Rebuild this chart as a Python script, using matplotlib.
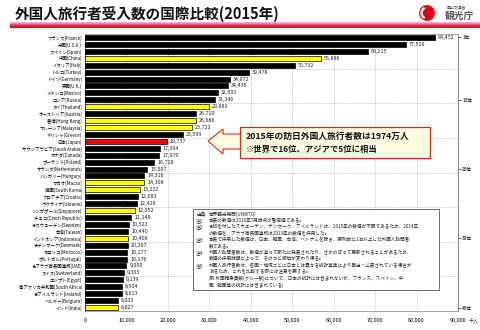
import numpy as np
import matplotlib
matplotlib.use("Agg")
import matplotlib.pyplot as plt
from matplotlib.patches import Rectangle, Polygon, Circle, Wedge
from matplotlib.colors import LinearSegmentedColormap

plt.rcParams['font.family'] = ['Noto Sans CJK JP', 'DejaVu Sans']

countries = ["フランス(France)", "米国(U.S.A.)", "スペイン(Spain)", "中国(China)", "イタリア(Italy)",
             "トルコ(Turkey)", "ドイツ(Germany)", "英国(U.K.)", "メキシコ(Mexico)", "ロシア(Russia)",
             "タイ(Thailand)", "オーストリア(Austria)", "香港(Hong Kong)", "マレーシア(Malaysia)", "ギリシャ(Greece)",
             "日本(Japan)", "サウジアラビア(Saudi Arabia)", "カナダ(Canada)", "ポーランド(Poland)", "オランダ(Netherlands)",
             "ハンガリー(Hungary)", "マカオ(Macao)", "韓国(South Korea)", "クロアチア(Croatia)", "ウクライナ(Ukraine)",
             "シンガポール(Singapore)", "チェコ(Czech Republic)", "★スウェーデン(Sweden)", "台湾(Taiwan)", "インドネシア(Indonesia)",
             "★デンマーク(Denmark)", "モロッコ(Morocco)", "ポルトガル(Portugal)", "★アラブ首長国連邦(UAE)", "スイス(Switzerland)",
             "エジプト(Egypt)", "南アフリカ共和国(South Africa)", "★アイルランド(Ireland)", "ベルギー(Belgium)", "インド(India)"]
values = [84452, 77510, 68215, 56886, 50732, 39478, 34972, 34436, 32093, 31346,
          29881, 26719, 26686, 25721, 23599, 19737, 17994, 17970, 16728, 15007,
          14316, 14308, 13232, 12683, 12428, 12052, 11148, 10522, 10440, 10408,
          10267, 10177, 10176, 9990, 9305, 9139, 8904, 8813, 8033, 8027]
# k = black, y = asia (yellow), r = japan
groups = ["k", "k", "k", "y", "k", "k", "k", "k", "k", "k",
          "y", "k", "y", "y", "k", "r", "k", "k", "k", "k",
          "k", "y", "y", "k", "k", "y", "k", "k", "k", "y",
          "k", "k", "k", "k", "k", "k", "k", "k", "k", "y"]
xticks = [0, 10000, 20000, 30000, 40000, 50000, 60000, 70000, 80000, 90000]
rank_pos = [1, 10, 20, 30, 40]

notes = [
    ("出典:", "世界観光機関(UNWTO)"),
    ("注1:", "本表の数値は2016年7月時点の暫定値である。"),
    ("注2:", "★印を付したスウェーデン、デンマーク、アイルランドは、2015年の数値が不明であるため、2014年"),
    ("", "の数値を、アラブ首長国連邦は2013年の数値を採用した。"),
    ("注3:", "本表で採用した数値は、日本、韓国、台湾、ベトナムを除き、原則的に1泊以上した外国人訪問者"),
    ("", "数である。"),
    ("注4:", "外国人訪問者数は、数値が追って新たに発表されたり、さかのぼって更新されることがあるため、"),
    ("", "数値の採用時期によって、そのつど順位が変わり得る。"),
    ("注5:", "外国人旅行者数は、各国・地域ごとに日本とは異なる統計基準により算出・公表されている場合が"),
    ("", "あるため、これを比較する際には注意を要する。"),
    ("", "(例:外国籍乗員数(クルー数)について、日本の統計には含まれないが、フランス、スペイン、中"),
    ("", "国、韓国等の統計には含まれている)"),
]

W, H = 480, 330


def px(x, y):
    return x / W, 1 - y / H


fig = plt.figure(figsize=(4.8, 3.3), dpi=100)

# title
fig.text(*px(15, 14), "外国人旅行者受入数の国際比較(2015年)", fontsize=10.5, fontweight="bold",
         va="center", ha="left", color="#111111")

# gradient band under title
band = fig.add_axes([10 / W, 1 - 28.5 / H, 470 / W, 7 / H])
grad = np.linspace(0, 1, 50).reshape(-1, 1)
cmap = LinearSegmentedColormap.from_list("band", ["#fcd2ee", "#f08cc8", "#ee2040", "#e00010"])
band.imshow(grad, aspect="auto", cmap=cmap, extent=[0, 1, 1, 0])
band.set_axis_off()

# logo
logo = fig.add_axes([418 / W, 1 - 21 / H, 18 / W, 16 / H])
logo.set_xlim(-1, 1)
logo.set_ylim(-1, 1)
logo.set_aspect("equal")
logo.add_patch(Circle((0, 0), 0.9, color="#e60012"))
logo.add_patch(Wedge((0, 0), 0.75, 120, 240, width=0.12, color="white"))
logo.set_axis_off()
fig.text(*px(447, 7), "国土交通省", fontsize=2.8, color="#444444", va="center")
fig.text(*px(445, 16), "観光庁", fontsize=7, fontweight="bold", color="#555555", va="center")

# main chart
ax = fig.add_axes([85 / W, 1 - 311 / H, 373 / W, 277 / H])
y = np.arange(len(values))
colors = {"k": "black", "y": "#ffff00", "r": "#ff0000"}
for i, (v, g) in enumerate(zip(values, groups)):
    ax.barh(i, v, height=0.72, color=colors[g], edgecolor="black", linewidth=0.5, zorder=3)
    ax.text(v + 700, i, f"{v:,}", fontsize=3.9, va="center", ha="left", color="#222222", zorder=4)

ax.set_xlim(0, 90000)
ax.set_ylim(len(values) - 0.5, -0.5)
ax.set_xticks(xticks)
ax.set_xticklabels([f"{t:,}" for t in xticks], fontsize=4)
ax.set_yticks(y)
ax.set_yticklabels(countries, fontsize=3.2)
ax.tick_params(axis="both", length=0, pad=2)
ax.tick_params(axis="x", pad=5)
for t in xticks[1:]:
    ax.axvline(t, color="#9a9a9a", lw=0.5, ls=":", zorder=1)
for b in range(5, len(values), 5):
    ax.axhline(b - 0.5, color="#9a9a9a", lw=0.5, ls=":", zorder=1)
ax.spines["top"].set_color("#999999")
ax.spines["bottom"].set_color("#999999")
ax.spines["right"].set_color("#777777")
ax.spines["left"].set_color("#333333")
for s in ax.spines.values():
    s.set_linewidth(0.6)

ax2 = ax.twinx()
ax2.set_ylim(len(values) - 0.5, -0.5)
ax2.set_yticks([r - 1 for r in rank_pos])
ax2.set_yticklabels([f"{r}位" for r in rank_pos], fontsize=3.4)
ax2.tick_params(axis="y", length=2, width=0.4, pad=1)
for s in ax2.spines.values():
    s.set_visible(False)

fig.text(*px(469, 322), "千人", fontsize=3.6, color="#333333", va="center")

# callout with arrow
arrow = Polygon([px(208, 141), px(223, 129), px(223, 134), px(241, 134),
                 px(241, 149), px(223, 149), px(223, 154)], closed=True,
                transform=fig.transFigure, facecolor="#fffbe0", edgecolor="#d03020", lw=0.8)
fig.patches.append(arrow)
box = Rectangle(px(240, 158), 190 / W, 31 / H, transform=fig.transFigure,
                facecolor="#fffbe0", edgecolor="#c83020", lw=0.9)
fig.patches.append(box)
fig.text(*px(246, 136), "2015年の訪日外国人旅行者数は1974万人", fontsize=6.3, fontweight="bold",
         va="center", color="#111111")
fig.text(*px(246, 149), "※世界で16位、アジアで5位に相当", fontsize=6.0, fontweight="bold",
         va="center", color="#111111")

# notes box
nbox = Rectangle(px(193, 290), 246 / W, 81 / H, transform=fig.transFigure,
                 facecolor="white", edgecolor="#555555", lw=0.6)
fig.patches.append(nbox)
for k, (lab, txt) in enumerate(notes):
    yy = 214 + k * 6.45
    if lab:
        fig.text(*px(196, yy), lab, fontsize=3.3, va="center", color="#222222")
    fig.text(*px(209, yy), txt, fontsize=3.3, va="center", color="#222222")

fig.savefig("out.png", dpi=100)
